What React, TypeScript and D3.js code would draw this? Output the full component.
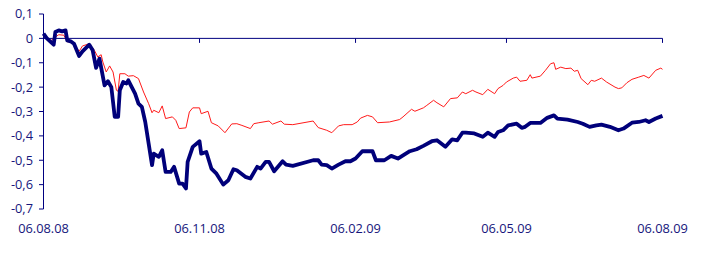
import React from "react";
import * as d3 from "d3";

// Two return series, one year from 06.08.08.
// Days are counted from the start date.
const START = new Date(2008, 7, 6);
const END = new Date(2009, 7, 6);

const navyDays = [
  0, 2, 6, 7, 9, 11, 13, 14, 16, 18, 21, 23, 27, 29, 31, 33, 36, 38, 40, 42, 44, 45,
  47, 49, 50, 54, 56, 58, 60, 64, 65, 68, 70, 72, 75, 77, 80, 82, 84, 85, 88, 92,
  93, 96, 99, 102, 106, 109, 112, 114, 119, 122, 126, 128, 131, 133, 136, 141, 143,
  147, 159, 162, 164, 167, 170, 174, 178, 181, 184, 188, 194, 196, 201, 205, 209,
  212, 216, 220, 224, 229, 232, 237, 241, 244, 247, 249, 254, 259, 262, 266, 268,
  271, 274, 279, 282, 284, 287, 293, 297, 301, 303, 309, 315, 318, 322, 326, 329,
  334, 339, 342, 347, 351, 355, 357, 361, 365,
];
const navyValues = [
  0.019, 0, -0.026, 0.026, 0.033, 0.029, 0.033, -0.008, -0.012, -0.022, -0.072,
  -0.053, -0.026, -0.049, -0.121, -0.083, -0.193, -0.176, -0.2, -0.322, -0.322,
  -0.213, -0.179, -0.185, -0.172, -0.227, -0.268, -0.281, -0.343, -0.52, -0.473,
  -0.486, -0.459, -0.548, -0.548, -0.527, -0.596, -0.596, -0.616, -0.507, -0.445,
  -0.422, -0.473, -0.466, -0.534, -0.555, -0.6, -0.582, -0.537, -0.541, -0.568,
  -0.575, -0.527, -0.534, -0.507, -0.507, -0.545, -0.504, -0.518, -0.523, -0.5,
  -0.5, -0.518, -0.52, -0.534, -0.518, -0.504, -0.504, -0.493, -0.463, -0.463,
  -0.5, -0.5, -0.482, -0.493, -0.48, -0.463, -0.455, -0.441, -0.422, -0.418,
  -0.445, -0.414, -0.418, -0.387, -0.387, -0.39, -0.404, -0.387, -0.404, -0.384,
  -0.377, -0.357, -0.35, -0.367, -0.363, -0.347, -0.347, -0.326, -0.316, -0.329,
  -0.333, -0.343, -0.35, -0.363, -0.357, -0.354, -0.363, -0.377, -0.37, -0.346,
  -0.343, -0.336, -0.343, -0.329, -0.318,
];

const redDays = [
  0, 2, 4, 6, 9, 12, 14, 17, 21, 23, 27, 30, 32, 34, 35, 37, 39, 41, 43, 44, 45, 48,
  50, 53, 56, 59, 62, 64, 65, 68, 70, 72, 76, 78, 80, 84, 86, 88, 92, 93, 97, 99,
  103, 107, 111, 114, 117, 122, 124, 127, 133, 135, 140, 142, 147, 159, 162, 167,
  170, 174, 177, 182, 185, 187, 191, 194, 197, 204, 210, 212, 217, 219, 224, 226,
  230, 232, 236, 240, 244, 247, 249, 253, 255, 259, 262, 266, 268, 271, 273, 277,
  279, 281, 285, 287, 288, 293, 296, 299, 301, 302, 305, 308, 311, 313, 315, 317,
  321, 323, 325, 329, 332, 337, 339, 341, 344, 347, 351, 354, 357, 361, 364, 365,
];
const redValues = [
  0.01, 0, -0.012, 0.001, 0.015, 0.013, -0.014, -0.014, -0.053, -0.031, -0.022,
  -0.049, -0.076, -0.067, -0.097, -0.138, -0.113, -0.138, -0.213, -0.217, -0.145,
  -0.145, -0.155, -0.153, -0.165, -0.22, -0.268, -0.305, -0.295, -0.305, -0.277,
  -0.329, -0.322, -0.336, -0.37, -0.367, -0.302, -0.285, -0.285, -0.309, -0.299,
  -0.346, -0.359, -0.387, -0.351, -0.35, -0.357, -0.37, -0.35, -0.346, -0.339,
  -0.352, -0.339, -0.352, -0.354, -0.339, -0.366, -0.377, -0.387, -0.359, -0.354,
  -0.354, -0.343, -0.327, -0.316, -0.322, -0.346, -0.343, -0.333, -0.322, -0.291,
  -0.299, -0.285, -0.275, -0.254, -0.264, -0.281, -0.247, -0.244, -0.22, -0.227,
  -0.213, -0.22, -0.231, -0.209, -0.227, -0.206, -0.193, -0.179, -0.163, -0.159,
  -0.176, -0.172, -0.149, -0.163, -0.155, -0.131, -0.104, -0.1, -0.127, -0.118,
  -0.124, -0.122, -0.135, -0.131, -0.165, -0.19, -0.172, -0.176, -0.163, -0.179,
  -0.2, -0.206, -0.203, -0.182, -0.168, -0.159, -0.152, -0.163, -0.131, -0.122,
  -0.127,
];

const yTicks = [0.1, 0, -0.1, -0.2, -0.3, -0.4, -0.5, -0.6, -0.7];
const xTicks = [
  new Date(2008, 7, 6),
  new Date(2008, 10, 6),
  new Date(2009, 1, 6),
  new Date(2009, 4, 6),
  new Date(2009, 7, 6),
];

const W = 704;
const H = 253;
const AXIS = "#000080";
const TEXT = "#16167c";
const NAVY = "#00007a";
const RED = "#ff1a1a";
const FONT = "'Open Sans', 'DejaVu Sans', sans-serif";

const fmtY = d3
  .formatLocale({ decimal: ",", thousands: ".", grouping: [3], currency: ["", ""], minus: "-" })
  .format(".1~f");
const fmtX = d3.timeFormat("%d.%m.%y");

type Pt = { date: Date; v: number };
const toPoints = (days: number[], vals: number[]): Pt[] =>
  days.map((d, i) => ({ date: d3.timeDay.offset(START, d), v: vals[i] }));

export default function App() {
  const x = d3.scaleTime().domain([START, END]).range([43.5, 662.5]);
  const y = d3.scaleLinear().domain([-0.7, 0.1]).range([209, 14]);

  const line = d3
    .line<Pt>()
    .x((p) => x(p.date))
    .y((p) => y(p.v));

  const navy = line(toPoints(navyDays, navyValues)) ?? "";
  const red = line(toPoints(redDays, redValues)) ?? "";

  const x0 = x(START);
  const y0 = y(0);

  return (
    <svg
      width={W}
      height={H}
      style={{ position: "absolute", left: 0, top: 0, background: "#fff" }}
      fontFamily={FONT}
    >
      {/* y axis */}
      <line x1={x0} x2={x0} y1={y(0.1)} y2={y(-0.7)} stroke={AXIS} strokeWidth={1} />
      {yTicks.map((t) => (
        <g key={t}>
          <line x1={x0 - 4.5} x2={x0} y1={y(t)} y2={y(t)} stroke={AXIS} strokeWidth={1} />
          <text
            x={33}
            y={y(t)}
            dy="0.35em"
            textAnchor="end"
            fontSize={12.8}
            fontWeight={500}
            fill={TEXT}
          >
            {fmtY(t)}
          </text>
        </g>
      ))}

      {/* x axis along zero */}
      <line x1={x0} x2={x(END)} y1={y0} y2={y0} stroke={AXIS} strokeWidth={1} />
      {xTicks.map((d, i) => (
        <g key={i}>
          {i > 0 && (
            <line x1={x(d)} x2={x(d)} y1={y0} y2={y0 + 4.5} stroke={AXIS} strokeWidth={1} />
          )}
          <text x={x(d)} y={233} textAnchor="middle" fontSize={12.8} fontWeight={500} fill={TEXT}>
            {fmtX(d)}
          </text>
        </g>
      ))}

      <path d={red} fill="none" stroke={RED} strokeWidth={1} strokeLinejoin="round" />
      <path d={navy} fill="none" stroke={NAVY} strokeWidth={3.8} strokeLinejoin="round" />
    </svg>
  );
}
